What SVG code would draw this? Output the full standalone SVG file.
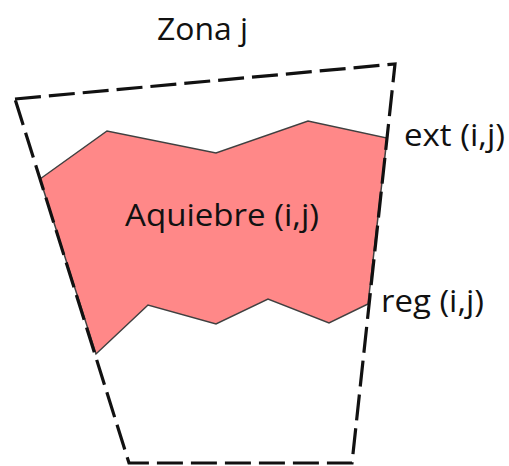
<svg xmlns="http://www.w3.org/2000/svg" width="509" height="466" viewBox="0 0 509 466">
<style>
.lbl{font-family:"Open Sans","Liberation Sans",sans-serif;font-size:31px;fill:#111}
.zone{fill:none;stroke:#111;stroke-width:3.2;stroke-dasharray:26 8;stroke-linejoin:miter}
.area{fill:#FF8888;stroke:#404040;stroke-width:1.5;stroke-linejoin:miter}
</style>
<rect width="509" height="466" fill="#fff"/>
<g id="aquiebre">
<polygon class="area" points="40,179 107,131 216,153 308,121 387,138 368,304 329,323 268,299 216,324 148,305 96,354"/>
<text class="lbl" x="125" y="226" textLength="194" lengthAdjust="spacingAndGlyphs">Aquiebre (i,j)</text>
</g>
<g id="zona">
<polygon class="zone" points="15,99 395,64 352,463 129,463"/>
<text class="lbl" x="157" y="40" textLength="91" lengthAdjust="spacingAndGlyphs">Zona j</text>
</g>
<g id="ext">
<text class="lbl" x="404" y="146" textLength="101" lengthAdjust="spacingAndGlyphs">ext (i,j)</text>
</g>
<g id="reg">
<text class="lbl" x="381" y="312" textLength="103" lengthAdjust="spacingAndGlyphs">reg (i,j)</text>
</g>
<g id="connectors"></g>
</svg>
